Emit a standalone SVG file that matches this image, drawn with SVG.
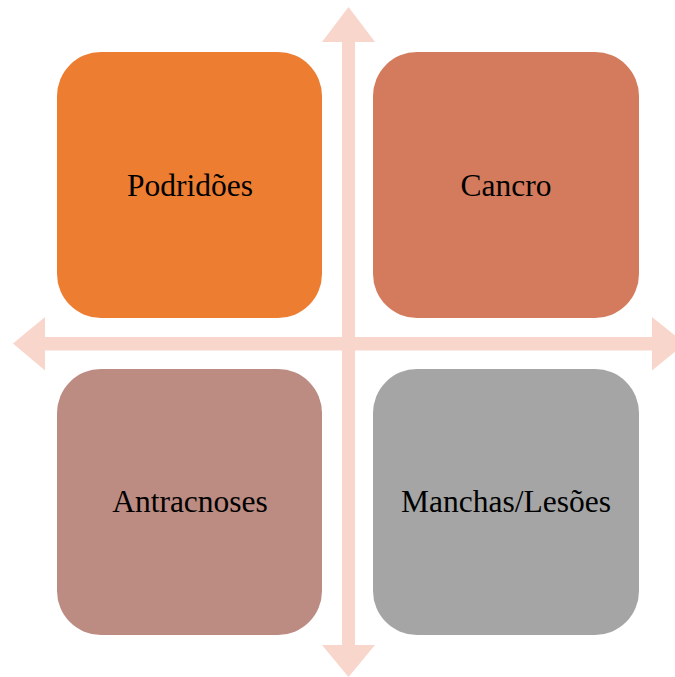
<svg xmlns="http://www.w3.org/2000/svg" width="675" height="677" viewBox="0 0 675 677">
  <style>
    .box { stroke: none; }
    .lbl { font-family: "Liberation Serif", "Times New Roman", serif; font-size: 31.5px; fill: #000; text-anchor: middle; dominant-baseline: central; }
    .axis { fill: #F8D6CB; stroke: none; }
  </style>
  <rect width="675" height="677" fill="#FFFFFF"/>
  <g id="connectors">
    <!-- vertical double arrow -->
    <polygon class="axis" points="348.5,7 375,42 355,42 355,645 375,645 348.5,677 322,645 342,645 342,42 322,42"/>
    <!-- horizontal double arrow -->
    <polygon class="axis" points="13,343.5 45,317 45,337 652,337 652,317 685,343.5 652,370.5 652,350.5 45,350.5 45,370.5"/>
  </g>
  <g id="node-podridoes">
    <rect class="box" x="57" y="52" width="265" height="266" rx="44" ry="44" fill="#ED7D31"/>
    <text class="lbl" x="190" y="185">Podridões</text>
  </g>
  <g id="node-cancro">
    <rect class="box" x="373" y="52" width="266" height="266" rx="44" ry="44" fill="#D37B5C"/>
    <text class="lbl" x="506" y="185">Cancro</text>
  </g>
  <g id="node-antracnoses">
    <rect class="box" x="57" y="369" width="265" height="266" rx="44" ry="44" fill="#BC8B82"/>
    <text class="lbl" x="190" y="501">Antracnoses</text>
  </g>
  <g id="node-manchas">
    <rect class="box" x="373" y="369" width="266" height="266" rx="44" ry="44" fill="#A5A5A5"/>
    <text class="lbl" x="506" y="501">Manchas/Lesões</text>
  </g>
</svg>
